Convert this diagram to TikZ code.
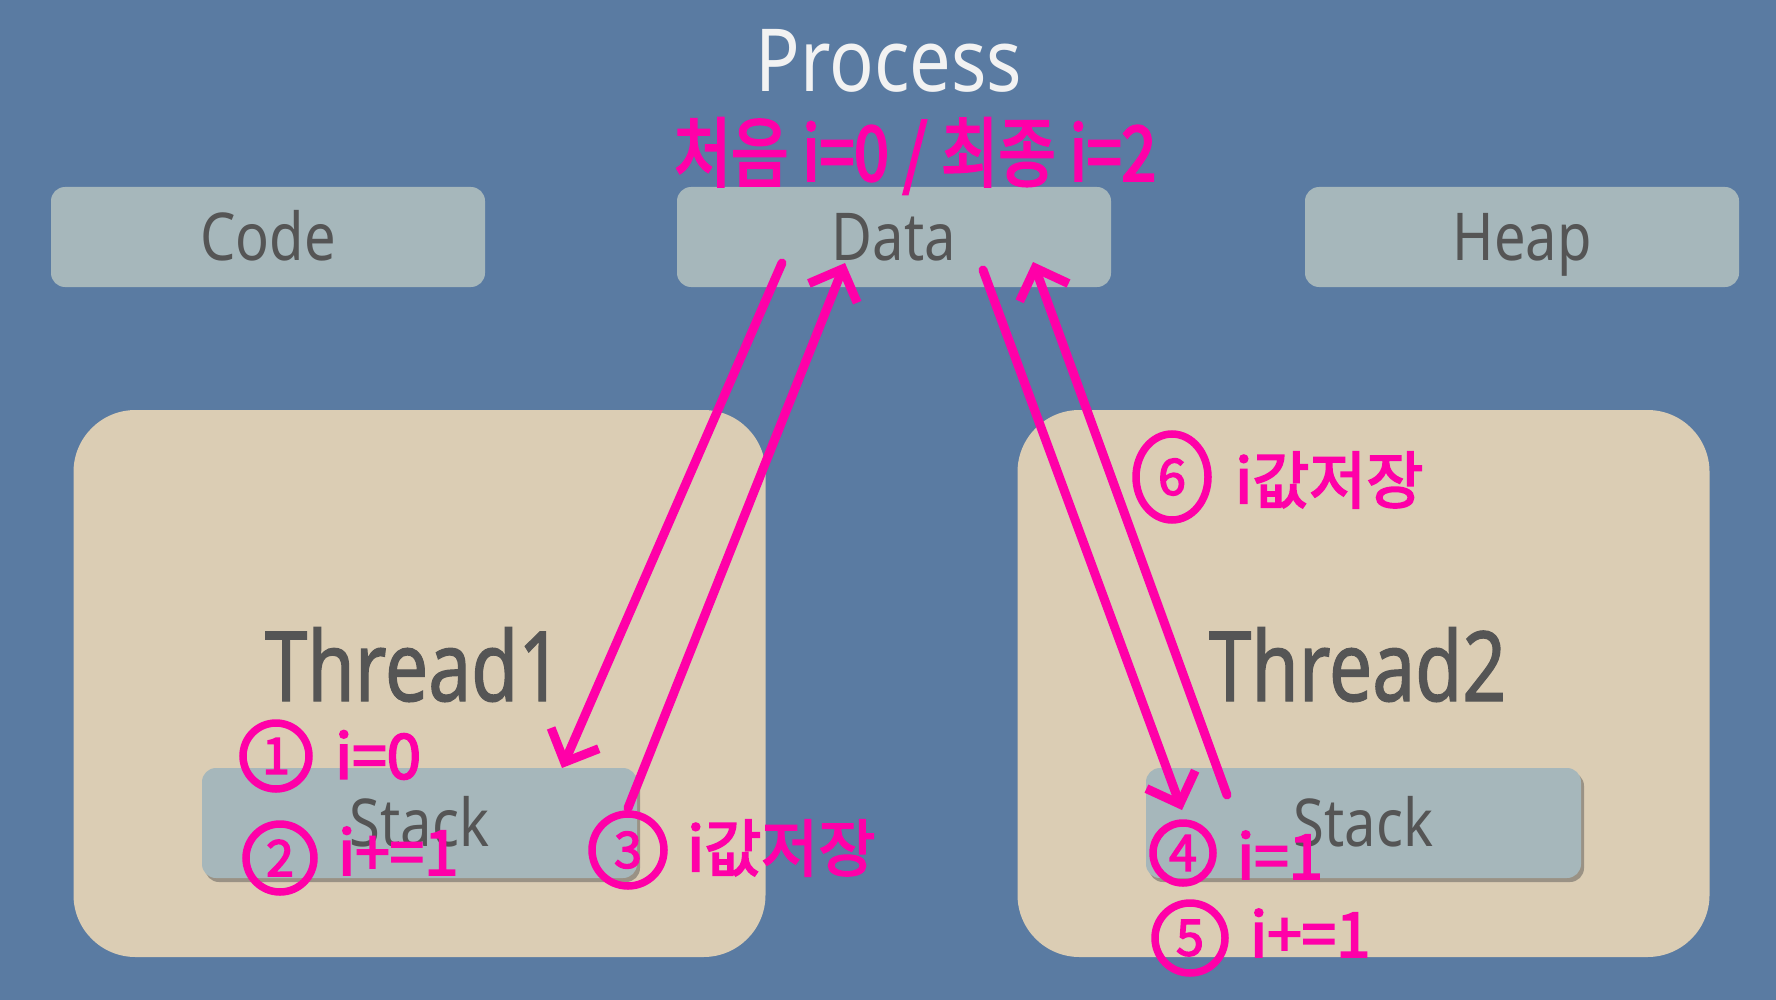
\documentclass[tikz,border=0pt]{standalone}
\usepackage{fontspec}
\usetikzlibrary{arrows.meta,shadows,shapes.geometric}
\setmainfont{Noto Sans}[FakeStretch=0.85]
\newfontfamily\threadfont{Noto Sans}[FakeStretch=0.79,FakeBold=1.2]
\newfontfamily\hand{Noto Sans CJK KR}[FakeBold=3]
\newfontfamily\handtop{Noto Sans CJK KR}[FakeBold=3,FakeStretch=0.82]
\definecolor{bgblue}{RGB}{90,123,162}
\definecolor{boxgray}{RGB}{166,183,187}
\definecolor{beige}{RGB}{219,205,180}
\definecolor{mag}{RGB}{255,0,168}
\definecolor{ink}{RGB}{85,85,85}
\tikzset{
  segbox/.style={fill=boxgray, rounded corners=14pt, minimum width=434pt, minimum height=100pt, inner sep=0pt},
  thrbox/.style={fill=beige, rounded corners=62pt, minimum width=692pt, minimum height=547pt, inner sep=0pt},
  stackbox/.style={segbox, minimum width=435pt, minimum height=110pt,
    drop shadow={shadow xshift=3pt, shadow yshift=-4pt, opacity=.45, fill=black!70}},
  segtext/.style={text=ink, anchor=base, inner sep=0pt, font=\fontsize{66}{70}\selectfont},
  thrtext/.style={text=ink, anchor=base, inner sep=0pt, font=\threadfont\fontsize{97}{100}\selectfont},
  num/.style={circle, draw=mag, line width=7.5pt, text=mag, inner sep=0pt, font=\hand\fontsize{50}{50}\selectfont},
  note/.style={text=mag, anchor=west, inner sep=0pt, font=\hand\fontsize{62}{64}\selectfont},
  penline/.style={draw=mag, line width=9pt, line cap=round, line join=round, -{Straight Barb[length=26pt,width=52pt]}}
}
\begin{document}
\begin{tikzpicture}[x=1pt,y=-1pt]
\fill[bgblue] (0,0) rectangle (1776,1000);
\useasboundingbox (0,0) rectangle (1776,1000);

\node[text=white!95!black, anchor=base, inner sep=0pt, font=\fontsize{87}{90}\selectfont] (proc) at (889,92) {Process};

\foreach \x/\name/\xtext in {268/code/Code, 894/data/Data, 1522/heap/Heap}
{
    \node[segbox] (\name) at (\x,237) {};
    \node[segtext] (\name txt) at (\x,260) {\xtext};
}

\foreach \x/\n in {419.5/1, 1363.5/2}
{
    \node[thrbox] (thread\n) at (\x,683.5) {};
    \node[thrtext] (thread\n txt) at (\x-6,701) {Thread\n};
    \node[stackbox] (stack\n) at (\x,823) {};
    \node[segtext] (stack\n txt) at (\x,846) {Stack};
}

\coordinate (d1) at (782,263);
\coordinate (s1) at (562,768);
\coordinate (s1b) at (628,808);
\coordinate (d2) at (845,263);
\coordinate (d3) at (983,270);
\coordinate (s2) at (1182,810);
\coordinate (s2b) at (1227,795);
\coordinate (d4) at (1033,262);
\draw[penline] (d1) -- (s1);
\draw[penline] (s1b) -- (d2);
\draw[penline] (d3) -- (s2);
\draw[penline] (s2b) -- (d4);

\node[text=mag, inner sep=0pt, font=\handtop\fontsize{76}{80}\selectfont] (first) at (915,156) {처음 i=0 / 최종 i=2};

\node[num, minimum size=66pt] (n1) at (276,756) {1};
\node[note] (t1) at (335,755) {i=0};
\node[num, minimum size=68pt] (n2) at (280,858) {2};
\node[note] (t2) at (338,851) {i+=1};
\node[num, minimum size=72pt] (n3) at (628,850) {3};
\node[note] (t3) at (687,848) {i값저장};
\node[num, minimum size=60pt] (n4) at (1183,853) {4};
\node[note] (t4) at (1237,855) {i=1};
\node[num, minimum size=70pt] (n5) at (1190,938) {5};
\node[note] (t5) at (1250,933) {i+=1};
\node[num, ellipse, minimum width=72pt, minimum height=86pt] (n6) at (1172,477) {6};
\node[note] (t6) at (1235,480) {i값저장};

\end{tikzpicture}
\end{document}
